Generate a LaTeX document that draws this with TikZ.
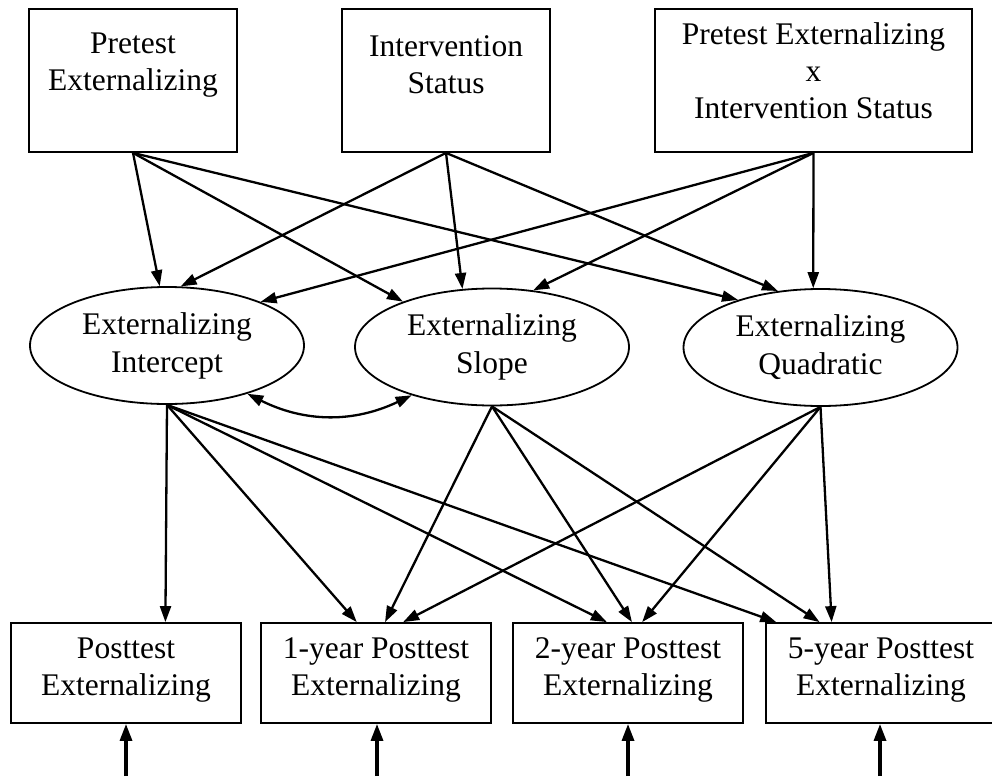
\documentclass[tikz,border=0pt]{standalone}
\usepackage{fontspec}
\setmainfont{Liberation Serif}
\usetikzlibrary{arrows.meta,shapes.geometric,calc}
\begin{document}
\begin{tikzpicture}[x=1pt,y=1pt,
  box/.style={draw, line width=1.8pt, inner sep=0pt},
  lat/.style={draw, ellipse, line width=1.8pt, inner sep=0pt, minimum width=274pt, minimum height=117pt, align=center, font=\fontsize{31.5}{38}\selectfont},
  lbl/.style={align=center, inner sep=0pt, font=\fontsize{31.5}{37}\selectfont},
  arr/.style={line width=2.3pt, -{Triangle[length=16pt,width=11pt]}},
  dbl/.style={line width=2.3pt, {Triangle[length=16pt,width=11pt]}-{Triangle[length=16pt,width=11pt]}},
  err/.style={line width=3.2pt, -{Triangle[length=17pt,width=12pt]}}
]
\useasboundingbox (0,0) rectangle (992,-776);

% top boxes
\node[box, minimum width=208pt, minimum height=143pt] (x1) at (133,-80.5) {};
\node[box, minimum width=208pt, minimum height=143pt] (x2) at (446,-80.5) {};
\node[box, minimum width=317pt, minimum height=143pt] (x3) at (813.5,-80.5) {};
\node[lbl] (t1) at (133,-65) {Pretest\\Externalizing};
\node[lbl] (t2) at (446,-65) {Intervention\\Status};
\node[lbl] (t3) at (813.5,-71) {Pretest Externalizing\\x\\Intervention Status};

% latent ellipses
\node[lat] (int) at (167,-345.5) {Externalizing\\Intercept};
\node[lat] (slo) at (492,-347) {Externalizing\\Slope};
\node[lat] (qua) at (820.5,-347.5) {Externalizing\\Quadratic};

% bottom boxes
\node[box, minimum width=230pt, minimum height=100pt] (p0) at (126,-673) {};
\node[box, minimum width=230pt, minimum height=100pt] (p1) at (376,-673) {};
\node[box, minimum width=230pt, minimum height=100pt] (p2) at (628,-673) {};
\node[box, minimum width=230pt, minimum height=100pt] (p3) at (881,-673) {};
\node[lbl] (u0) at (126,-670) {Posttest\\Externalizing};
\node[lbl] (u1) at (376,-670) {1-year Posttest\\Externalizing};
\node[lbl] (u2) at (628,-670) {2-year Posttest\\Externalizing};
\node[lbl] (u3) at (881,-670) {5-year Posttest\\Externalizing};

% predictors -> growth factors
\draw[arr] (x1.south) -- (int.97);
\draw[arr] (x1.south) -- (slo.153);
\draw[arr] (x1.south) -- (qua.150);
\draw[arr] (x2.south) -- (int.77);
\draw[arr] (x2.south) -- (slo.117);
\draw[arr] (x2.south) -- (qua.127);
\draw[arr] (x3.south) -- (int.25);
\draw[arr] (x3.south) -- (slo.54);
\draw[arr] (x3.south) -- (qua.97);

% covariance
\draw[dbl] (int.329) to[bend right=26] (slo.211);

% growth factors -> observed
\draw[arr] (int.south) -- ($(p0.north west)!0.67!(p0.north east)$);
\draw[arr] (int.south) -- ($(p1.north west)!0.417!(p1.north east)$);
\draw[arr] (int.south) -- ($(p2.north west)!0.409!(p2.north east)$);
\draw[arr] (int.south) -- ($(p3.north west)!0.048!(p3.north east)$);
\draw[arr] (slo.south) -- ($(p1.north west)!0.539!(p1.north east)$);
\draw[arr] (slo.south) -- ($(p2.north west)!0.517!(p2.north east)$);
\draw[arr] (slo.south) -- ($(p3.north west)!0.235!(p3.north east)$);
\draw[arr] (qua.south) -- ($(p1.north west)!0.617!(p1.north east)$);
\draw[arr] (qua.south) -- ($(p2.north west)!0.561!(p2.north east)$);
\draw[arr] (qua.south) -- ($(p3.north west)!0.287!(p3.north east)$);

% residual arrows
\coordinate (e0) at (126,-776);
\coordinate (e1) at (377,-776);
\coordinate (e2) at (628,-776);
\coordinate (e3) at (880,-776);
\draw[err] (e0) -- (e0 |- p0.south);
\draw[err] (e1) -- (e1 |- p1.south);
\draw[err] (e2) -- (e2 |- p2.south);
\draw[err] (e3) -- (e3 |- p3.south);
\end{tikzpicture}
\end{document}
